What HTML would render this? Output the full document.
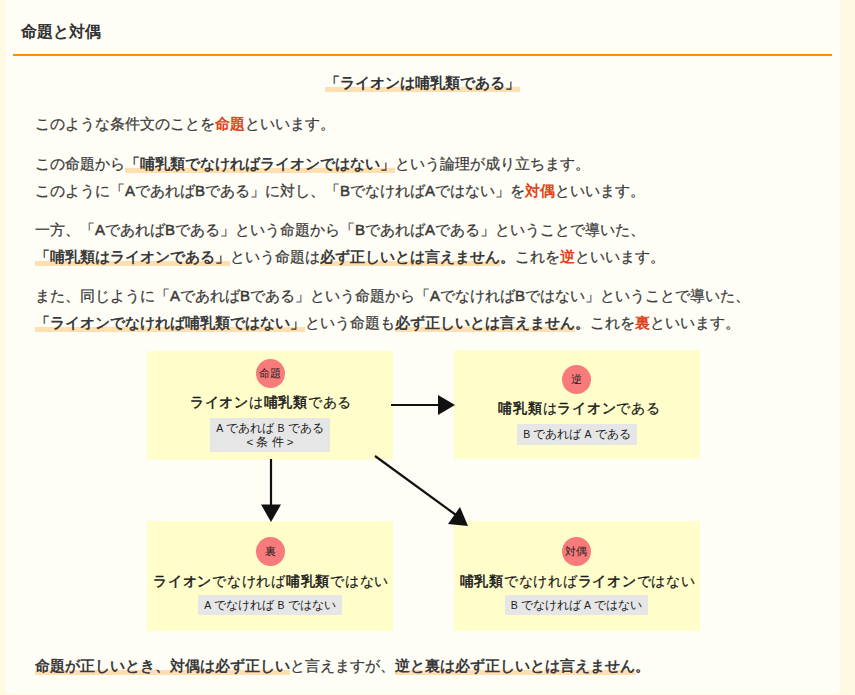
<!DOCTYPE html>
<html lang="ja">
<head>
<meta charset="utf-8">
<style>
html,body{margin:0;padding:0;}
body{width:855px;height:695px;overflow:hidden;background:#fff9e1;font-family:"Liberation Sans",sans-serif;color:#333;position:relative;}
#wrap{position:absolute;left:5px;top:0;width:835px;height:694px;background:#fffef6;border-radius:0 0 5px 5px;}
.ttl{position:absolute;left:16px;top:21px;font-size:16px;font-weight:bold;line-height:22px;color:#333;white-space:nowrap;}
.rule{position:absolute;left:8px;top:54px;width:819px;height:2px;background:#ff9000;}
.hd{position:absolute;left:0;width:835px;top:72px;text-align:center;font-size:15px;font-weight:bold;line-height:22px;}
.mk{background:linear-gradient(#ffdfb0,#ffdfb0) left bottom/100% 5px no-repeat;padding-bottom:1px;}
.p{position:absolute;left:30px;font-size:15px;line-height:27px;white-space:nowrap;color:#3a3a3a;-webkit-text-stroke:0.25px #3a3a3a;}
.r{color:#df431a;font-weight:bold;-webkit-text-stroke:0;}
.ab{font-style:normal;-webkit-text-stroke:0.5px #3a3a3a;}
.p b{font-weight:bold;-webkit-text-stroke:0;}
.box{position:absolute;background:#fffecb;}
.circ{position:absolute;width:29px;height:29px;border-radius:50%;background:#f87a7a;color:#222;font-size:11px;line-height:29px;text-align:center;}
.main{position:absolute;font-size:14px;letter-spacing:0.75px;line-height:18px;color:#1a1a1a;-webkit-text-stroke:0.2px #1a1a1a;white-space:nowrap;text-align:center;}
.main b{font-weight:normal;-webkit-text-stroke:0.5px #1a1a1a;}
.lt{font-size:10.5px;}
.gray{position:absolute;background:#e6e6e6;font-size:11.5px;line-height:13.5px;color:#222;text-align:center;white-space:nowrap;}
</style>
</head>
<body>
<div id="wrap">
  <div class="ttl">命題と対偶</div>
  <div class="rule"></div>
  <div class="hd"><span class="mk">「ライオンは哺乳類である」</span></div>

  <div class="p" style="top:110px">このような条件文のことを<span class="r">命題</span>といいます。</div>

  <div class="p" style="top:150px">この命題から<b class="mk">「哺乳類でなければライオンではない」</b>という論理が成り立ちます。<br>このように「<i class="ab">A</i>であれば<i class="ab">B</i>である」に対し、「<i class="ab">B</i>でなければ<i class="ab">A</i>ではない」を<span class="r">対偶</span>といいます。</div>

  <div class="p" style="top:216px">一方、「<i class="ab">A</i>であれば<i class="ab">B</i>である」という命題から「<i class="ab">B</i>であれば<i class="ab">A</i>である」ということで導いた、<br><b class="mk">「哺乳類はライオンである」</b>という命題は<b class="mk">必ず正しいとは言えません</b><b>。</b>これを<span class="r">逆</span>といいます。</div>

  <div class="p" style="top:281.5px">また、同じように「<i class="ab">A</i>であれば<i class="ab">B</i>である」という命題から「<i class="ab">A</i>でなければ<i class="ab">B</i>ではない」ということで導いた、<br><b class="mk">「ライオンでなければ哺乳類ではない」</b>という命題も<b class="mk">必ず正しいとは言えません</b><b>。</b>これを<span class="r">裏</span>といいます。</div>

  <div class="p" style="top:652px"><b class="mk">命題が正しいとき、対偶は必ず正しい</b>と言えますが、<b class="mk">逆と裏は必ず正しいとは言えません</b><b>。</b></div>
</div>

<!-- diagram (absolute page coords) -->
<div class="box" style="left:147px;top:351px;width:246px;height:109px"></div>
<div class="box" style="left:454px;top:350px;width:246px;height:109px"></div>
<div class="box" style="left:147px;top:521px;width:246px;height:110px"></div>
<div class="box" style="left:454px;top:521px;width:246px;height:110px"></div>

<div class="circ" style="left:255.5px;top:358.5px">命題</div>
<div class="circ" style="left:561.5px;top:365px">逆</div>
<div class="circ" style="left:255.5px;top:537px">裏</div>
<div class="circ" style="left:561.5px;top:537px">対偶</div>

<div class="main" style="left:148px;width:246px;top:393px"><b>ライオン</b>は<b>哺乳類</b>である</div>
<div class="main" style="left:456px;width:247px;top:399px"><b>哺乳類</b>は<b>ライオン</b>である</div>
<div class="main" style="left:148px;width:246px;top:572px"><b>ライオン</b>でなければ<b>哺乳類</b>ではない</div>
<div class="main" style="left:454px;width:247px;top:572px"><b>哺乳類</b>でなければ<b>ライオン</b>ではない</div>

<div class="gray" style="left:210px;top:418px;width:120px;height:34px;padding-top:4px;box-sizing:border-box"><span class="lt">A</span> であれば <span class="lt">B</span> である<br>&lt; 条 件 &gt;</div>
<div class="gray" style="left:517px;top:424px;width:120px;height:21px;line-height:21px"><span class="lt">B</span> であれば <span class="lt">A</span> である</div>
<div class="gray" style="left:198px;top:595px;width:144px;height:20px;line-height:20px"><span class="lt">A</span> でなければ <span class="lt">B</span> ではない</div>
<div class="gray" style="left:505px;top:595px;width:143px;height:20px;line-height:20px"><span class="lt">B</span> でなければ <span class="lt">A</span> ではない</div>

<svg style="position:absolute;left:0;top:0" width="855" height="695">
  <line x1="391" y1="405" x2="441" y2="405" stroke="#111" stroke-width="2.2"/>
  <polygon points="438,395 455,405 438,415" fill="#111"/>
  <line x1="271" y1="459" x2="271" y2="507" stroke="#111" stroke-width="2.2"/>
  <polygon points="261,504.5 281,504.5 271,522" fill="#111"/>
  <line x1="375" y1="456" x2="456" y2="515" stroke="#111" stroke-width="2.2"/>
  <polygon points="448,524 460,507 468,526" fill="#111"/>
</svg>
</body>
</html>
